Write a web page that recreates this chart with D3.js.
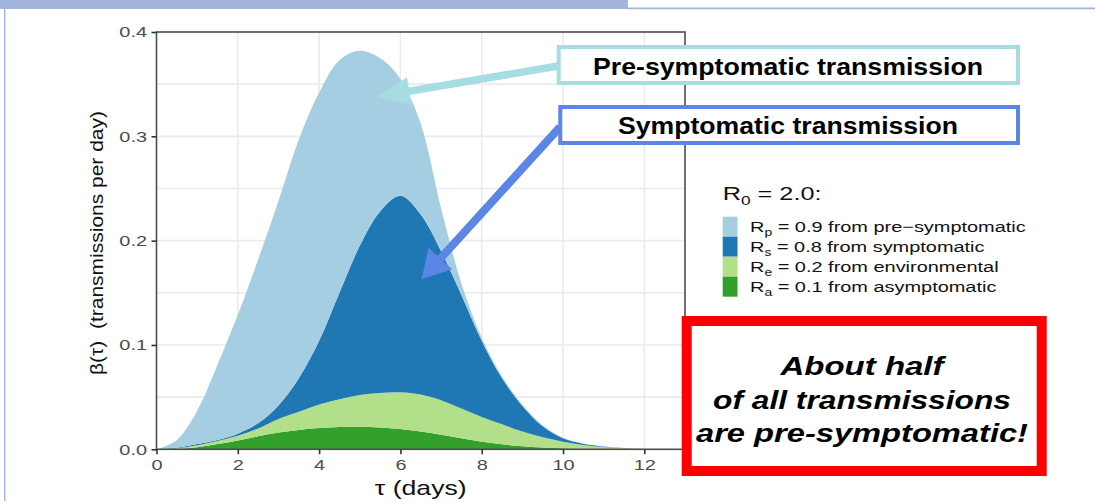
<!DOCTYPE html>
<html><head><meta charset="utf-8">
<script src="https://cdn.jsdelivr.net/npm/d3@7"></script>
<style>
body{margin:0;background:#fff;}
svg{display:block;font-family:"Liberation Sans",Arial,Helvetica,sans-serif;}
</style>
</head><body>
<svg id="c" width="1095" height="501"></svg>
<script>
// ---------------- data ----------------
const tau = [0,0.5,1,1.5,2,2.5,3,3.5,4,4.5,5,5.5,6,6.5,7,7.5,8,8.5,9,9.5,10,10.5,11,11.5,12,12.5,13];
const asymptomatic   = [0,0.0005,0.002,0.005,0.0085,0.0125,0.016,0.0185,0.0203,0.0213,0.0215,0.021,0.0195,0.017,0.014,0.0105,0.0072,0.0048,0.003,0.0018,0.001,0.0005,0.0002,0.0001,0,0,0];
const environmental  = [0,0.0005,0.002,0.003,0.0045,0.0075,0.013,0.0175,0.0227,0.0267,0.0305,0.033,0.0352,0.0355,0.033,0.0285,0.0238,0.0192,0.014,0.0097,0.0063,0.0037,0.002,0.0009,0.0004,0.0001,0];
const symptomatic    = [0,0.0005,0.001,0.001,0.002,0.005,0.013,0.032,0.061,0.102,0.143,0.174,0.1883,0.1725,0.143,0.109,0.073,0.044,0.0245,0.0105,0.0032,0.0012,0.0006,0.0002,0,0,0];
const presymptomatic = [0,0.0075,0.032,0.072,0.114,0.157,0.196,0.229,0.238,0.223,0.187,0.147,0.112,0.087,0.041,0.011,0.003,0.002,0.0015,0.001,0.0005,0.0002,0.0001,0,0,0,0];

const seriesKeys   = ["asymptomatic","environmental","symptomatic","presymptomatic"];
const seriesColors = ["#33a02c","#b2df8a","#1f78b4","#a6cee3"];

const xTicks = [0,2,4,6,8,10,12];
const yTicks = [0.0,0.1,0.2,0.3,0.4];
const yGrid  = [0.05,0.1,0.15,0.2,0.25,0.3,0.35];

const R0 = "2.0";
const legendSubs    = ["p","s","e","a"];
const legendValues  = ["0.9","0.8","0.2","0.1"];
const legendSources = ["pre\u2212symptomatic","symptomatic","environmental","asymptomatic"];
const legendColors  = ["#a6cee3","#1f78b4","#b2df8a","#33a02c"];

const calloutLines = ["About half","of all transmissions","are pre-symptomatic!"];

// ---------------- layout ----------------
const svg = d3.select("#c");
const SX = 1.33; // horizontal stretch of the chart lettering

// header decoration
svg.append("rect").attr("x",0).attr("y",0).attr("width",628).attr("height",9).attr("fill","#a1b5dd");
svg.append("rect").attr("x",628).attr("y",7.5).attr("width",467).attr("height",1.8).attr("fill","#a1b5dd");
svg.append("rect").attr("x",4).attr("y",9).attr("width",1.4).attr("height",492).attr("fill","#a1b5dd");

const x = d3.scaleLinear().domain([0,13]).range([156.5,685]);
const y = d3.scaleLinear().domain([0,0.4]).range([449.3,32]);

// grid
const grid = svg.append("g");
grid.selectAll(".gy").data(yGrid).join("line")
  .attr("x1",x(0)).attr("x2",x(13)).attr("y1",d=>y(d)).attr("y2",d=>y(d))
  .attr("stroke","#ebebeb").attr("stroke-width",1.6);
grid.selectAll(".gx").data(xTicks.filter(d=>d>0)).join("line")
  .attr("x1",d=>x(d)).attr("x2",d=>x(d)).attr("y1",y(0)).attr("y2",y(0.4))
  .attr("stroke","#ebebeb").attr("stroke-width",1.6);

// stacked areas
const rows = tau.map((t,i)=>({tau:t, asymptomatic:asymptomatic[i], environmental:environmental[i], symptomatic:symptomatic[i], presymptomatic:presymptomatic[i]}));
const stacked = d3.stack().keys(seriesKeys)(rows);
const area = d3.area().curve(d3.curveCatmullRom.alpha(0.5))
  .x(d=>x(d.data.tau)).y0(d=>y(d[0])).y1(d=>y(d[1]));
svg.append("g").selectAll("path").data(stacked).join("path")
  .attr("d",area).attr("fill",(d,i)=>seriesColors[i]);

// panel border
svg.append("rect").attr("x",x(0)).attr("y",y(0.4)).attr("width",x(13)-x(0)).attr("height",y(0)-y(0.4))
  .attr("fill","none").attr("stroke","#4d4d4d").attr("stroke-width",1.6);

function stretch(sel){
  sel.each(function(){
    const t=d3.select(this); const xv=+t.attr("x")||0;
    t.attr("x", xv/SX).attr("transform",`scale(${SX},1)`);
  });
}

// axes
const gx = svg.append("g").attr("transform",`translate(0,${y(0)})`)
  .call(d3.axisBottom(x).tickValues(xTicks).tickFormat(d3.format("d")).tickSize(5).tickPadding(5.5));
const gy = svg.append("g").attr("transform",`translate(${x(0)},0)`)
  .call(d3.axisLeft(y).tickValues(yTicks).tickFormat(d3.format(".1f")).tickSize(5).tickPadding(4.5));
[gx,gy].forEach(g=>{
  g.select(".domain").remove();
  g.selectAll(".tick line").attr("stroke","#333").attr("stroke-width",1.6);
  g.selectAll(".tick text").attr("fill","#4d4d4d").attr("font-size",15)
   .attr("font-family","Liberation Sans, Arial, sans-serif");
  stretch(g.selectAll(".tick text"));
});

// axis titles
svg.append("text").attr("transform",`translate(420.7,495) scale(${SX},1)`)
  .attr("text-anchor","middle").attr("font-size",20).attr("fill","#111")
  .text("\u03c4 (days)");
svg.append("text").attr("transform",`translate(103,243) rotate(-90)`)
  .attr("text-anchor","middle").attr("font-size",18).attr("fill","#111")
  .attr("textLength",264).attr("lengthAdjust","spacingAndGlyphs")
  .style("white-space","pre")
  .text("\u03b2(\u03c4)  (transmissions per day)");

// legend
const lg = svg.append("g");
const title = lg.append("text").attr("transform",`translate(722.7,200) scale(${SX},1)`)
  .attr("font-size",19).attr("fill","#111");
title.append("tspan").text("R");
title.append("tspan").attr("font-size",13).attr("dy",5).text("0");
title.append("tspan").attr("dy",-5).text(" = " + R0 + ":");

legendSubs.forEach((s,i)=>{
  lg.append("rect").attr("x",722.7).attr("y",216.7+i*20).attr("width",14.8).attr("height",20)
    .attr("fill",legendColors[i]);
  const t = lg.append("text").attr("transform",`translate(750,${232+i*20}) scale(${SX},1)`)
    .attr("font-size",15).attr("fill","#111");
  t.append("tspan").text("R");
  t.append("tspan").attr("font-size",10.5).attr("dy",4).text(s);
  t.append("tspan").attr("dy",-4).text(" = " + legendValues[i] + " from " + legendSources[i]);
});

// callout boxes with arrows
function arrow(x0,y0,tx,ty,L,hw,w,color){
  const dx=tx-x0, dy=ty-y0, len=Math.hypot(dx,dy), ux=dx/len, uy=dy/len;
  const bx=tx-ux*L, by=ty-uy*L, px=-uy, py=ux;
  svg.append("line").attr("x1",x0).attr("y1",y0).attr("x2",bx+ux*2).attr("y2",by+uy*2)
    .attr("stroke",color).attr("stroke-width",w);
  svg.append("polygon").attr("points",[[tx,ty],[bx+px*hw,by+py*hw],[bx-px*hw,by-py*hw]].map(p=>p.join(",")).join(" "))
    .attr("fill",color);
}
const cPre="#a6dde3", cSym="#5b86e6";
arrow(558,66,x(5.42),y(0.338),33,14,7.5,cPre);
arrow(560,127,x(6.52),y(0.163),28,16,8,cSym);

svg.append("rect").attr("x",558.7).attr("y",47).attr("width",459.3).attr("height",36)
  .attr("fill","#fff").attr("stroke",cPre).attr("stroke-width",4);
svg.append("text").attr("x",788).attr("y",75).attr("text-anchor","middle")
  .attr("font-size",23).attr("font-weight","bold").attr("fill","#000")
  .attr("textLength",390).attr("lengthAdjust","spacingAndGlyphs")
  .text("Pre-symptomatic transmission");

svg.append("rect").attr("x",560.3).attr("y",107).attr("width",457.7).attr("height",36)
  .attr("fill","#fff").attr("stroke",cSym).attr("stroke-width",4);
svg.append("text").attr("x",788).attr("y",134).attr("text-anchor","middle")
  .attr("font-size",23).attr("font-weight","bold").attr("fill","#000")
  .attr("textLength",340).attr("lengthAdjust","spacingAndGlyphs")
  .text("Symptomatic transmission");

// red callout
svg.append("rect").attr("x",686.7).attr("y",321).attr("width",355).attr("height",150)
  .attr("fill","#fff").attr("stroke","#ff0000").attr("stroke-width",10);
const calloutLens=[163,298,332], calloutBase=[375,409,442];
calloutLines.forEach((s,i)=>{
  svg.append("text").attr("x",862).attr("y",calloutBase[i]).attr("text-anchor","middle")
    .attr("font-size",26).attr("font-weight","bold").attr("font-style","italic").attr("fill","#000")
    .attr("textLength",calloutLens[i]).attr("lengthAdjust","spacingAndGlyphs")
    .text(s);
});
</script>
</body></html>
